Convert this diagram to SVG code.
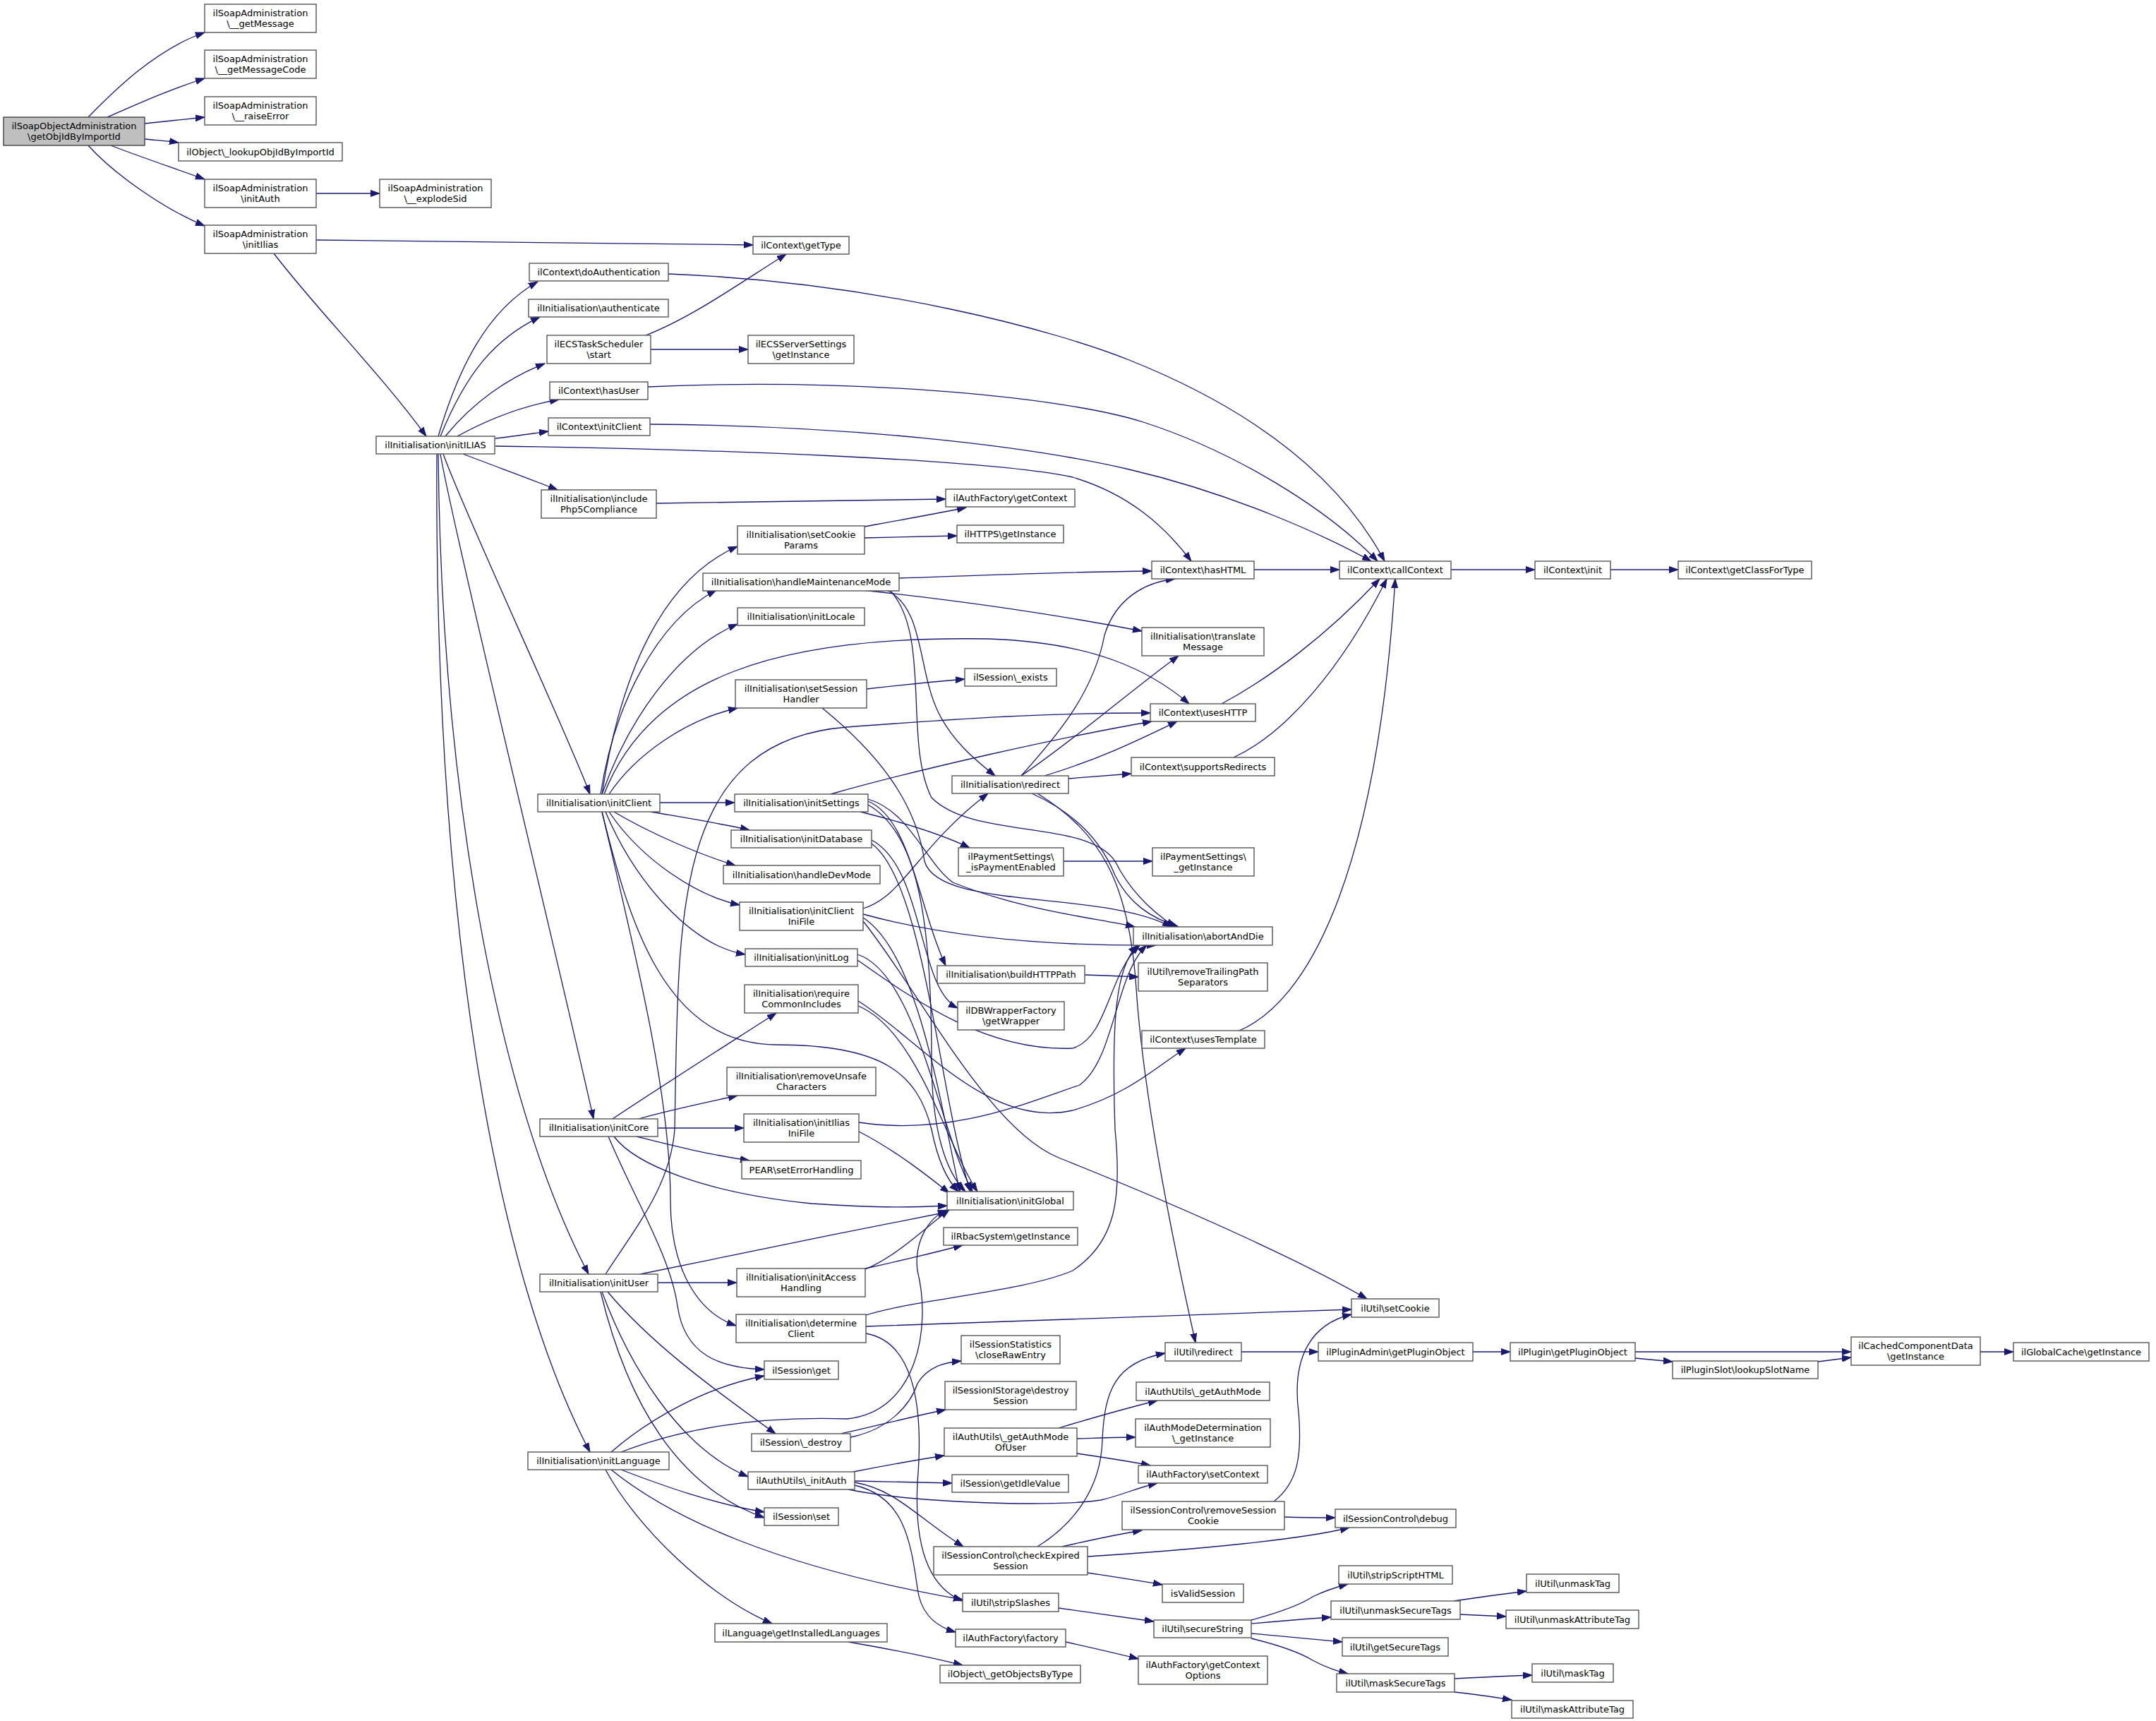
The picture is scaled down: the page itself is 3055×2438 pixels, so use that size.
<svg xmlns="http://www.w3.org/2000/svg" width="3055" height="2438" viewBox="0 0 3055 2438">
<style>
.n{fill:#ffffff;stroke:#555555;stroke-width:1.4}
.r{fill:#bfbfbf;stroke:#444444;stroke-width:1.4}
text{font-family:"DejaVu Sans","Liberation Sans",sans-serif;font-size:13px;fill:#000000;text-anchor:middle}
.e path{fill:none;stroke:#191970;stroke-width:1.3;marker-end:url(#a)}
</style>
<defs>
<marker id="a" markerWidth="14" markerHeight="10" refX="13" refY="5" orient="auto" markerUnits="userSpaceOnUse">
<path d="M0,0.5 L13,5 L0,9.5 z" fill="#191970" stroke="#191970" stroke-width="1"/>
</marker>
</defs>
<rect x="0" y="0" width="3055" height="2438" fill="#ffffff"/>
<g class="e" id="edges">
<path d="M125,166 C160,130 220,70 290,46"/>
<path d="M152,166 C200,145 240,127 290,111"/>
<path d="M205,175 C235,172 260,169 290,166"/>
<path d="M205,197 C225,199 240,200 253,202"/>
<path d="M157,206 C190,219 240,236 290,254"/>
<path d="M125,206 C160,245 230,295 290,320"/>
<path d="M448,274 L538,274"/>
<path d="M448,340 C700,342 900,345 1067,347"/>
<path d="M388,359 C450,440 540,530 604,618"/>
<path d="M621,618 C650,520 690,440 762,399"/>
<path d="M624,618 C660,530 700,480 765,449"/>
<path d="M631,618 C670,570 720,535 772,515"/>
<path d="M648,618 C690,595 740,575 792,566"/>
<path d="M702,621 C730,618 755,614 777,611"/>
<path d="M702,632 C1000,636 1400,650 1520,676 C1600,700 1650,745 1688,795"/>
<path d="M656,643 C700,660 750,678 790,694"/>
<path d="M628,643 C655,720 800,1030 836,1125"/>
<path d="M624,643 C640,740 800,1400 841,1585"/>
<path d="M621,643 C625,1100 700,1550 834,1805"/>
<path d="M619,643 C615,1300 700,1800 836,2057"/>
<path d="M915,475 C980,450 1050,400 1114,360"/>
<path d="M922,495 L1060,495"/>
<path d="M947,388 C1250,400 1500,470 1600,510 C1750,570 1890,660 1962,795"/>
<path d="M918,548 C1200,535 1500,560 1620,598 C1750,640 1880,720 1952,795"/>
<path d="M921,601 C1200,603 1450,630 1600,665 C1750,700 1880,760 1943,795"/>
<path d="M1777,807 L1898,807"/>
<path d="M2056,807 L2175,807"/>
<path d="M2282,807 L2378,807"/>
<path d="M930,713 C1100,711 1250,708 1340,707"/>
<path d="M1225,746 C1280,736 1330,727 1369,719"/>
<path d="M1225,762 C1280,761 1320,760 1356,759"/>
<path d="M853,1125 C880,950 940,820 1045,774"/>
<path d="M851,1125 C870,1000 930,880 1015,836"/>
<path d="M853,1125 C890,1020 960,920 1045,884"/>
<path d="M856,1125 C920,960 1100,900 1400,905 C1550,910 1630,950 1685,997"/>
<path d="M863,1125 C900,1070 970,1020 1045,1003"/>
<path d="M935,1137 L1041,1137"/>
<path d="M922,1150 C980,1160 1030,1168 1062,1176"/>
<path d="M870,1150 C920,1180 990,1210 1042,1226"/>
<path d="M863,1150 C910,1220 990,1270 1048,1282"/>
<path d="M858,1150 C900,1250 980,1340 1056,1352"/>
<path d="M853,1150 C890,1300 940,1480 1100,1480 C1250,1480 1300,1520 1320,1600 C1330,1650 1345,1675 1358,1688"/>
<path d="M853,1150 C900,1350 950,1550 950,1700 C950,1800 990,1860 1043,1878"/>
<path d="M868,1585 C920,1550 1030,1480 1100,1435"/>
<path d="M905,1585 C950,1572 1000,1562 1045,1552"/>
<path d="M932,1598 L1054,1598"/>
<path d="M902,1610 C950,1622 1000,1635 1062,1644"/>
<path d="M870,1610 C900,1650 1000,1690 1150,1705 C1250,1712 1300,1710 1342,1708"/>
<path d="M862,1610 C900,1700 950,1780 960,1850 C970,1920 1020,1938 1083,1940"/>
<path d="M858,1805 C900,1740 950,1680 956,1600 C962,1300 950,1050 1200,1030 C1400,1015 1500,1010 1630,1010"/>
<path d="M907,1805 C1000,1785 1200,1745 1342,1717"/>
<path d="M932,1817 L1044,1817"/>
<path d="M861,1830 C920,1900 1000,1960 1099,2031"/>
<path d="M853,1830 C890,1930 960,2050 1060,2092"/>
<path d="M851,1830 C880,1950 940,2100 1083,2150"/>
<path d="M866,2057 C920,2010 1000,1965 1083,1949"/>
<path d="M880,2057 C950,2030 1050,2005 1200,2010 C1300,2000 1320,1880 1300,1800 C1295,1760 1315,1725 1342,1714"/>
<path d="M880,2082 C940,2105 1010,2130 1083,2142"/>
<path d="M866,2082 C950,2150 1100,2220 1364,2266"/>
<path d="M858,2082 C900,2160 1000,2260 1094,2300"/>
<path d="M1223,1287 C1280,1270 1300,1200 1400,1124"/>
<path d="M1223,1295 C1350,1330 1500,1340 1638,1339"/>
<path d="M1223,1300 C1300,1350 1330,1550 1360,1688"/>
<path d="M1223,1305 C1300,1400 1400,1600 1500,1640 C1700,1720 1850,1790 1937,1840"/>
<path d="M1177,1125 C1300,1090 1500,1045 1632,1022"/>
<path d="M1219,1150 C1280,1165 1330,1180 1374,1201"/>
<path d="M1230,1132 C1290,1150 1310,1220 1350,1250 C1450,1290 1550,1300 1608,1313"/>
<path d="M1230,1135 C1290,1160 1300,1280 1340,1368"/>
<path d="M1230,1140 C1300,1180 1320,1300 1320,1500 C1320,1600 1340,1660 1368,1688"/>
<path d="M1235,1190 C1310,1230 1300,1400 1357,1428"/>
<path d="M1235,1195 C1310,1250 1330,1550 1375,1688"/>
<path d="M1228,976 C1280,970 1320,966 1367,962"/>
<path d="M1165,1003 C1260,1080 1300,1150 1310,1220 C1330,1290 1560,1260 1660,1313"/>
<path d="M1274,819 C1400,815 1500,810 1632,809"/>
<path d="M1222,836 C1400,855 1520,875 1618,894"/>
<path d="M1256,836 C1310,860 1300,950 1330,1010 C1350,1050 1380,1075 1410,1099"/>
<path d="M1261,836 C1320,900 1280,1050 1320,1130 C1380,1190 1540,1160 1580,1220 C1600,1260 1630,1290 1665,1313"/>
<path d="M1447,1099 C1500,1040 1550,980 1565,900 C1580,850 1620,825 1665,820"/>
<path d="M1447,1099 C1520,1050 1600,980 1670,929"/>
<path d="M1480,1099 C1560,1075 1620,1045 1668,1022"/>
<path d="M1514,1103 C1550,1100 1580,1098 1603,1096"/>
<path d="M1462,1124 C1520,1150 1560,1190 1580,1240 C1600,1280 1630,1300 1670,1313"/>
<path d="M1470,1124 C1560,1180 1600,1250 1610,1400 C1620,1550 1660,1750 1694,1902"/>
<path d="M1731,997 C1800,960 1880,900 1955,820"/>
<path d="M1748,1073 C1820,1040 1900,950 1965,820"/>
<path d="M1756,1460 C1850,1420 1950,1250 1977,820"/>
<path d="M1507,1220 L1633,1220"/>
<path d="M1537,1381 C1570,1382 1590,1383 1613,1384"/>
<path d="M1216,1418 C1300,1470 1400,1600 1520,1573 C1600,1550 1640,1510 1680,1485"/>
<path d="M1216,1425 C1300,1460 1340,1620 1385,1688"/>
<path d="M1215,1352 C1300,1380 1330,1600 1378,1688"/>
<path d="M1215,1360 C1300,1420 1400,1490 1520,1485 C1570,1470 1570,1380 1615,1339"/>
<path d="M1217,1603 C1270,1630 1320,1670 1345,1690"/>
<path d="M1217,1590 C1350,1610 1460,1560 1530,1537 C1580,1500 1580,1380 1625,1339"/>
<path d="M1226,1798 C1270,1780 1310,1740 1345,1714"/>
<path d="M1226,1797 C1280,1785 1330,1773 1364,1764"/>
<path d="M1227,1863 C1300,1840 1450,1830 1520,1800 C1580,1760 1590,1700 1580,1600 C1575,1450 1580,1370 1612,1339"/>
<path d="M1227,1879 C1500,1870 1700,1862 1915,1855"/>
<path d="M1227,1889 C1290,1900 1310,1980 1300,2100 C1295,2200 1320,2250 1364,2268"/>
<path d="M1205,2036 C1260,2025 1290,1990 1300,1960 C1315,1935 1340,1930 1362,1928"/>
<path d="M1192,2031 C1250,2018 1300,2005 1340,1997"/>
<path d="M1209,2085 C1250,2077 1300,2068 1338,2062"/>
<path d="M1211,2098 C1260,2099 1310,2100 1349,2101"/>
<path d="M1202,2110 C1300,2130 1500,2135 1560,2125 C1590,2118 1610,2108 1640,2101"/>
<path d="M1211,2100 C1270,2110 1300,2150 1365,2191"/>
<path d="M1211,2104 C1280,2120 1290,2180 1300,2250 C1305,2290 1330,2305 1354,2312"/>
<path d="M1500,2023 C1560,2005 1600,1994 1640,1984"/>
<path d="M1526,2038 C1560,2037 1585,2036 1609,2036"/>
<path d="M1526,2059 C1560,2064 1600,2070 1630,2076"/>
<path d="M1470,2191 C1520,2160 1560,2110 1562,2040 C1565,1970 1580,1930 1651,1917"/>
<path d="M1505,2191 C1540,2183 1580,2174 1618,2168"/>
<path d="M1541,2205 C1700,2195 1850,2180 1912,2164"/>
<path d="M1541,2228 C1580,2234 1620,2240 1647,2245"/>
<path d="M1805,2127 C1840,2100 1845,2060 1840,2000 C1830,1920 1860,1875 1915,1862"/>
<path d="M1820,2149 C1850,2150 1870,2150 1892,2150"/>
<path d="M1759,1915 L1868,1915"/>
<path d="M2087,1915 L2140,1915"/>
<path d="M2317,1915 L2623,1915"/>
<path d="M2317,1924 L2370,1929"/>
<path d="M2576,1929 L2623,1923"/>
<path d="M2806,1915 L2853,1915"/>
<path d="M1500,2278 C1550,2285 1600,2292 1635,2297"/>
<path d="M1773,2295 C1810,2285 1840,2275 1860,2262 C1880,2252 1895,2248 1910,2244"/>
<path d="M1773,2300 C1820,2296 1855,2293 1886,2291"/>
<path d="M1773,2314 C1820,2318 1860,2322 1902,2326"/>
<path d="M1773,2321 C1810,2330 1840,2340 1860,2352 C1880,2363 1895,2367 1910,2371"/>
<path d="M2060,2268 C2100,2262 2130,2258 2163,2254"/>
<path d="M2069,2287 C2095,2288 2115,2289 2134,2290"/>
<path d="M2061,2378 C2100,2376 2140,2374 2171,2373"/>
<path d="M2061,2397 C2090,2400 2115,2404 2142,2408"/>
<path d="M1510,2326 C1550,2335 1585,2343 1613,2350"/>
<path d="M1202,2326 C1260,2336 1320,2348 1364,2359"/>
</g>
<g id="n0"><rect class="r" x="5" y="166" width="200" height="40"/><text x="105" y="182.8">ilSoapObjectAdministration</text><text x="105" y="197.9">\getObjIdByImportId</text></g>
<g id="n1"><rect class="n" x="290" y="6" width="158" height="40"/><text x="369" y="22.8">ilSoapAdministration</text><text x="369" y="37.9">\__getMessage</text></g>
<g id="n2"><rect class="n" x="290" y="71" width="158" height="40"/><text x="369" y="87.8">ilSoapAdministration</text><text x="369" y="102.9">\__getMessageCode</text></g>
<g id="n3"><rect class="n" x="290" y="137" width="158" height="40"/><text x="369" y="153.8">ilSoapAdministration</text><text x="369" y="168.9">\__raiseError</text></g>
<g id="n4"><rect class="n" x="253" y="202" width="232" height="26"/><text x="369" y="219.5">ilObject\_lookupObjIdByImportId</text></g>
<g id="n5"><rect class="n" x="290" y="254" width="158" height="40"/><text x="369" y="270.8">ilSoapAdministration</text><text x="369" y="285.9">\initAuth</text></g>
<g id="n6"><rect class="n" x="290" y="319" width="158" height="40"/><text x="369" y="335.8">ilSoapAdministration</text><text x="369" y="350.9">\initIlias</text></g>
<g id="n7"><rect class="n" x="538" y="254" width="158" height="40"/><text x="617" y="270.8">ilSoapAdministration</text><text x="617" y="285.9">\__explodeSid</text></g>
<g id="n8"><rect class="n" x="533" y="618" width="168" height="25"/><text x="617" y="635">ilInitialisation\initILIAS</text></g>
<g id="n9"><rect class="n" x="1067" y="335" width="136" height="25"/><text x="1135" y="352">ilContext\getType</text></g>
<g id="n10"><rect class="n" x="750" y="373" width="197" height="25"/><text x="848.5" y="390">ilContext\doAuthentication</text></g>
<g id="n11"><rect class="n" x="749" y="424" width="198" height="25"/><text x="848" y="441">ilInitialisation\authenticate</text></g>
<g id="n12"><rect class="n" x="775" y="475" width="147" height="40"/><text x="848.5" y="491.8">ilECSTaskScheduler</text><text x="848.5" y="506.9">\start</text></g>
<g id="n13"><rect class="n" x="1060" y="475" width="150" height="40"/><text x="1135" y="491.8">ilECSServerSettings</text><text x="1135" y="506.9">\getInstance</text></g>
<g id="n14"><rect class="n" x="779" y="541" width="139" height="25"/><text x="848.5" y="558">ilContext\hasUser</text></g>
<g id="n15"><rect class="n" x="777" y="592" width="144" height="25"/><text x="849" y="609">ilContext\initClient</text></g>
<g id="n16"><rect class="n" x="767" y="694" width="163" height="40"/><text x="848.5" y="710.8">ilInitialisation\include</text><text x="848.5" y="725.9">Php5Compliance</text></g>
<g id="n17"><rect class="n" x="1340" y="693" width="183" height="25"/><text x="1431.5" y="710">ilAuthFactory\getContext</text></g>
<g id="n18"><rect class="n" x="1045" y="745" width="180" height="40"/><text x="1135" y="761.8">ilInitialisation\setCookie</text><text x="1135" y="776.9">Params</text></g>
<g id="n19"><rect class="n" x="1356" y="744" width="151" height="25"/><text x="1431.5" y="761">ilHTTPS\getInstance</text></g>
<g id="n20"><rect class="n" x="1632" y="795" width="145" height="25"/><text x="1704.5" y="812">ilContext\hasHTML</text></g>
<g id="n21"><rect class="n" x="1898" y="795" width="158" height="25"/><text x="1977" y="812">ilContext\callContext</text></g>
<g id="n22"><rect class="n" x="2175" y="795" width="107" height="25"/><text x="2228.5" y="812">ilContext\init</text></g>
<g id="n23"><rect class="n" x="2378" y="795" width="189" height="25"/><text x="2472.5" y="812">ilContext\getClassForType</text></g>
<g id="n24"><rect class="n" x="996" y="812" width="278" height="25"/><text x="1135" y="829">ilInitialisation\handleMaintenanceMode</text></g>
<g id="n25"><rect class="n" x="1045" y="861" width="180" height="25"/><text x="1135" y="878">ilInitialisation\initLocale</text></g>
<g id="n26"><rect class="n" x="1618" y="889" width="173" height="40"/><text x="1704.5" y="905.8">ilInitialisation\translate</text><text x="1704.5" y="920.9">Message</text></g>
<g id="n27"><rect class="n" x="1042" y="963" width="186" height="40"/><text x="1135" y="979.8">ilInitialisation\setSession</text><text x="1135" y="994.9">Handler</text></g>
<g id="n28"><rect class="n" x="1367" y="947" width="130" height="25"/><text x="1432" y="964">ilSession\_exists</text></g>
<g id="n29"><rect class="n" x="1630" y="997" width="149" height="25"/><text x="1704.5" y="1014">ilContext\usesHTTP</text></g>
<g id="n30"><rect class="n" x="1603" y="1073" width="203" height="26"/><text x="1704.5" y="1090.5">ilContext\supportsRedirects</text></g>
<g id="n31"><rect class="n" x="1349" y="1099" width="165" height="25"/><text x="1431.5" y="1116">ilInitialisation\redirect</text></g>
<g id="n32"><rect class="n" x="762" y="1125" width="173" height="25"/><text x="848.5" y="1142">ilInitialisation\initClient</text></g>
<g id="n33"><rect class="n" x="1041" y="1125" width="189" height="25"/><text x="1135.5" y="1142">ilInitialisation\initSettings</text></g>
<g id="n34"><rect class="n" x="1036" y="1176" width="199" height="25"/><text x="1135.5" y="1193">ilInitialisation\initDatabase</text></g>
<g id="n35"><rect class="n" x="1358" y="1201" width="149" height="40"/><text x="1432.5" y="1217.8">ilPaymentSettings\</text><text x="1432.5" y="1232.9">_isPaymentEnabled</text></g>
<g id="n36"><rect class="n" x="1633" y="1201" width="144" height="40"/><text x="1705" y="1217.8">ilPaymentSettings\</text><text x="1705" y="1232.9">_getInstance</text></g>
<g id="n37"><rect class="n" x="1025" y="1226" width="222" height="26"/><text x="1136" y="1243.5">ilInitialisation\handleDevMode</text></g>
<g id="n38"><rect class="n" x="1048" y="1278" width="175" height="40"/><text x="1135.5" y="1294.8">ilInitialisation\initClient</text><text x="1135.5" y="1309.9">IniFile</text></g>
<g id="n39"><rect class="n" x="1606" y="1313" width="197" height="26"/><text x="1704.5" y="1330.5">ilInitialisation\abortAndDie</text></g>
<g id="n40"><rect class="n" x="1056" y="1344" width="159" height="25"/><text x="1135.5" y="1361">ilInitialisation\initLog</text></g>
<g id="n41"><rect class="n" x="1328" y="1368" width="209" height="25"/><text x="1432.5" y="1385">ilInitialisation\buildHTTPPath</text></g>
<g id="n42"><rect class="n" x="1613" y="1364" width="183" height="40"/><text x="1704.5" y="1380.8">ilUtil\removeTrailingPath</text><text x="1704.5" y="1395.9">Separators</text></g>
<g id="n43"><rect class="n" x="1055" y="1395" width="161" height="40"/><text x="1135.5" y="1411.8">ilInitialisation\require</text><text x="1135.5" y="1426.9">CommonIncludes</text></g>
<g id="n44"><rect class="n" x="1357" y="1419" width="151" height="40"/><text x="1432.5" y="1435.8">ilDBWrapperFactory</text><text x="1432.5" y="1450.9">\getWrapper</text></g>
<g id="n45"><rect class="n" x="1618" y="1460" width="174" height="25"/><text x="1705" y="1477">ilContext\usesTemplate</text></g>
<g id="n46"><rect class="n" x="1030" y="1512" width="211" height="40"/><text x="1135.5" y="1528.8">ilInitialisation\removeUnsafe</text><text x="1135.5" y="1543.9">Characters</text></g>
<g id="n47"><rect class="n" x="765" y="1585" width="167" height="25"/><text x="848.5" y="1602">ilInitialisation\initCore</text></g>
<g id="n48"><rect class="n" x="1054" y="1578" width="163" height="40"/><text x="1135.5" y="1594.8">ilInitialisation\initIlias</text><text x="1135.5" y="1609.9">IniFile</text></g>
<g id="n49"><rect class="n" x="1051" y="1644" width="169" height="26"/><text x="1135.5" y="1661.5">PEAR\setErrorHandling</text></g>
<g id="n50"><rect class="n" x="1342" y="1688" width="179" height="26"/><text x="1431.5" y="1705.5">ilInitialisation\initGlobal</text></g>
<g id="n51"><rect class="n" x="1337" y="1739" width="190" height="25"/><text x="1432" y="1756">ilRbacSystem\getInstance</text></g>
<g id="n52"><rect class="n" x="765" y="1805" width="167" height="25"/><text x="848.5" y="1822">ilInitialisation\initUser</text></g>
<g id="n53"><rect class="n" x="1044" y="1797" width="182" height="40"/><text x="1135" y="1813.8">ilInitialisation\initAccess</text><text x="1135" y="1828.9">Handling</text></g>
<g id="n54"><rect class="n" x="1915" y="1840" width="124" height="26"/><text x="1977" y="1857.5">ilUtil\setCookie</text></g>
<g id="n55"><rect class="n" x="1043" y="1862" width="184" height="40"/><text x="1135" y="1878.8">ilInitialisation\determine</text><text x="1135" y="1893.9">Client</text></g>
<g id="n56"><rect class="n" x="1362" y="1892" width="140" height="40"/><text x="1432" y="1908.8">ilSessionStatistics</text><text x="1432" y="1923.9">\closeRawEntry</text></g>
<g id="n57"><rect class="n" x="1651" y="1902" width="108" height="26"/><text x="1705" y="1919.5">ilUtil\redirect</text></g>
<g id="n58"><rect class="n" x="1868" y="1902" width="219" height="26"/><text x="1977.5" y="1919.5">ilPluginAdmin\getPluginObject</text></g>
<g id="n59"><rect class="n" x="2140" y="1902" width="177" height="26"/><text x="2228.5" y="1919.5">ilPlugin\getPluginObject</text></g>
<g id="n60"><rect class="n" x="2623" y="1894" width="183" height="40"/><text x="2714.5" y="1910.8">ilCachedComponentData</text><text x="2714.5" y="1925.9">\getInstance</text></g>
<g id="n61"><rect class="n" x="2853" y="1902" width="192" height="26"/><text x="2949" y="1919.5">ilGlobalCache\getInstance</text></g>
<g id="n62"><rect class="n" x="2370" y="1928" width="206" height="25"/><text x="2473" y="1945">ilPluginSlot\lookupSlotName</text></g>
<g id="n63"><rect class="n" x="1083" y="1928" width="105" height="26"/><text x="1135.5" y="1945.5">ilSession\get</text></g>
<g id="n64"><rect class="n" x="1339" y="1957" width="186" height="40"/><text x="1432" y="1973.8">ilSessionIStorage\destroy</text><text x="1432" y="1988.9">Session</text></g>
<g id="n65"><rect class="n" x="1610" y="1958" width="189" height="26"/><text x="1704.5" y="1975.5">ilAuthUtils\_getAuthMode</text></g>
<g id="n66"><rect class="n" x="1609" y="2010" width="191" height="40"/><text x="1704.5" y="2026.8">ilAuthModeDetermination</text><text x="1704.5" y="2041.9">\_getInstance</text></g>
<g id="n67"><rect class="n" x="1065" y="2031" width="140" height="25"/><text x="1135" y="2048">ilSession\_destroy</text></g>
<g id="n68"><rect class="n" x="1338" y="2023" width="188" height="40"/><text x="1432" y="2039.8">ilAuthUtils\_getAuthMode</text><text x="1432" y="2054.9">OfUser</text></g>
<g id="n69"><rect class="n" x="748" y="2057" width="200" height="25"/><text x="848" y="2074">ilInitialisation\initLanguage</text></g>
<g id="n70"><rect class="n" x="1613" y="2076" width="183" height="25"/><text x="1704.5" y="2093">ilAuthFactory\setContext</text></g>
<g id="n71"><rect class="n" x="1060" y="2085" width="151" height="25"/><text x="1135.5" y="2102">ilAuthUtils\_initAuth</text></g>
<g id="n72"><rect class="n" x="1349" y="2089" width="165" height="25"/><text x="1431.5" y="2106">ilSession\getIdleValue</text></g>
<g id="n73"><rect class="n" x="1590" y="2127" width="230" height="40"/><text x="1705" y="2143.8">ilSessionControl\removeSession</text><text x="1705" y="2158.9">Cookie</text></g>
<g id="n74"><rect class="n" x="1083" y="2136" width="105" height="25"/><text x="1135.5" y="2153">ilSession\set</text></g>
<g id="n75"><rect class="n" x="1892" y="2138" width="171" height="26"/><text x="1977.5" y="2155.5">ilSessionControl\debug</text></g>
<g id="n76"><rect class="n" x="1323" y="2191" width="218" height="40"/><text x="1432" y="2207.8">ilSessionControl\checkExpired</text><text x="1432" y="2222.9">Session</text></g>
<g id="n77"><rect class="n" x="1897" y="2218" width="161" height="26"/><text x="1977.5" y="2235.5">ilUtil\stripScriptHTML</text></g>
<g id="n78"><rect class="n" x="2163" y="2230" width="131" height="26"/><text x="2228.5" y="2247.5">ilUtil\unmaskTag</text></g>
<g id="n79"><rect class="n" x="1647" y="2244" width="115" height="26"/><text x="1704.5" y="2261.5">isValidSession</text></g>
<g id="n80"><rect class="n" x="1364" y="2257" width="136" height="26"/><text x="1432" y="2274.5">ilUtil\stripSlashes</text></g>
<g id="n81"><rect class="n" x="1886" y="2268" width="183" height="26"/><text x="1977.5" y="2285.5">ilUtil\unmaskSecureTags</text></g>
<g id="n82"><rect class="n" x="2134" y="2281" width="188" height="26"/><text x="2228" y="2298.5">ilUtil\unmaskAttributeTag</text></g>
<g id="n83"><rect class="n" x="1635" y="2295" width="138" height="25"/><text x="1704" y="2312">ilUtil\secureString</text></g>
<g id="n84"><rect class="n" x="1013" y="2300" width="244" height="26"/><text x="1135" y="2317.5">ilLanguage\getInstalledLanguages</text></g>
<g id="n85"><rect class="n" x="1354" y="2308" width="156" height="25"/><text x="1432" y="2325">ilAuthFactory\factory</text></g>
<g id="n86"><rect class="n" x="1902" y="2320" width="150" height="26"/><text x="1977" y="2337.5">ilUtil\getSecureTags</text></g>
<g id="n87"><rect class="n" x="1613" y="2346" width="183" height="40"/><text x="1704.5" y="2362.8">ilAuthFactory\getContext</text><text x="1704.5" y="2377.9">Options</text></g>
<g id="n88"><rect class="n" x="2171" y="2357" width="115" height="26"/><text x="2228.5" y="2374.5">ilUtil\maskTag</text></g>
<g id="n89"><rect class="n" x="1332" y="2359" width="199" height="25"/><text x="1431.5" y="2376">ilObject\_getObjectsByType</text></g>
<g id="n90"><rect class="n" x="1894" y="2371" width="167" height="26"/><text x="1977.5" y="2388.5">ilUtil\maskSecureTags</text></g>
<g id="n91"><rect class="n" x="2142" y="2409" width="172" height="25"/><text x="2228" y="2426">ilUtil\maskAttributeTag</text></g>
</svg>
